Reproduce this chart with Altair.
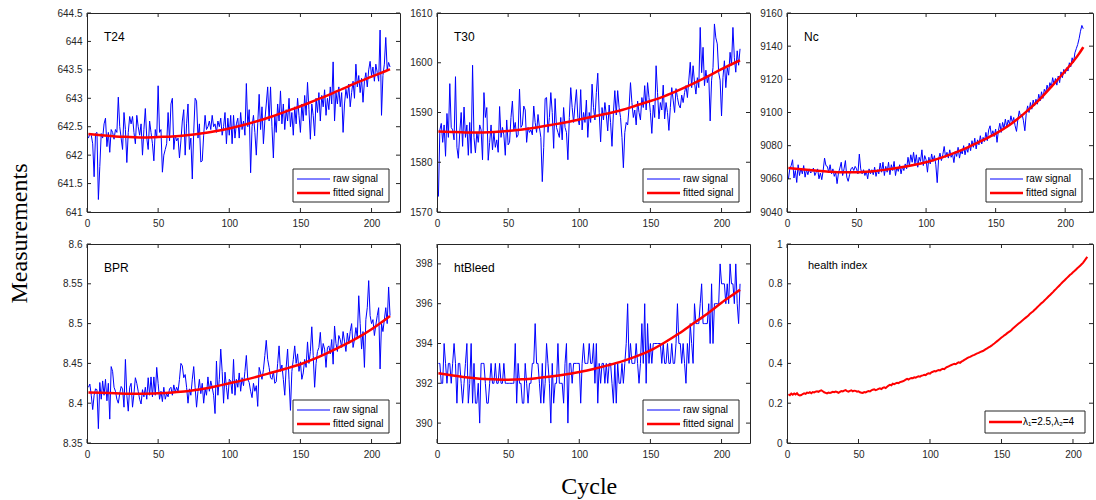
import altair as alt
import pandas as pd

# ---------------- data ----------------
FIT_CYCLES = [1, 10, 20, 30, 40, 50, 60, 70, 80, 90, 100, 110, 120, 130, 140,
              150, 160, 170, 180, 190, 200, 210, 213]
X_TICKS = [0, 50, 100, 150, 200]

T24_RAW = [
    642.30, 642.38, 642.35, 642.20, 641.62, 642.38, 642.40, 641.22, 641.80, 642.38,
    642.30, 642.55, 642.65, 642.15, 642.40, 642.05, 642.45, 642.40, 642.28, 642.45,
    642.40, 643.02, 642.50, 642.30, 642.10, 642.75, 642.45, 641.87, 642.40, 642.68,
    642.55, 642.68, 642.40, 642.20, 642.70, 642.50, 642.35, 642.55, 642.00, 642.45,
    642.82, 642.30, 642.10, 642.60, 642.40, 642.20, 641.90, 642.45, 642.30, 643.22,
    642.40, 642.45, 641.70, 642.00, 642.10, 642.20, 642.75, 642.25, 642.90, 643.00,
    642.10, 642.35, 642.25, 642.30, 641.95, 642.25, 642.60, 642.80, 642.00, 642.55,
    642.90, 642.10, 642.30, 641.58, 642.40, 643.00, 642.95, 642.30, 642.55, 641.88,
    641.90, 642.35, 642.70, 642.45, 642.50, 642.60, 642.45, 642.70, 642.50, 642.55,
    642.40, 642.60, 642.50, 642.65, 642.35, 642.50, 642.75, 642.20, 642.65, 642.35,
    642.70, 642.20, 642.70, 642.30, 642.55, 642.65, 642.30, 642.75, 642.45, 642.60,
    642.35, 643.26, 642.50, 642.80, 641.69, 642.50, 642.70, 642.40, 642.00, 642.55,
    643.07, 642.45, 642.85, 642.20, 642.60, 642.90, 643.20, 642.60, 643.20, 642.50,
    641.95, 642.70, 642.40, 642.90, 642.60, 643.13, 642.55, 642.90, 642.45, 642.80,
    642.60, 643.00, 642.50, 642.75, 642.35, 642.85, 642.55, 643.00, 642.70, 642.40,
    642.90, 642.60, 643.05, 642.70, 643.28, 642.80, 642.28, 642.90, 642.70, 642.34,
    643.00, 642.75, 643.10, 642.60, 643.05, 642.85, 643.15, 642.70, 643.00, 642.80,
    643.20, 642.90, 643.64, 642.60, 643.10, 642.90, 643.20, 642.85, 643.10, 642.40,
    642.90, 643.16, 643.00, 643.25, 642.85, 643.10, 643.30, 643.00, 643.60, 643.20,
    643.40, 643.10, 643.35, 642.93, 643.30, 643.45, 643.20, 643.50, 643.65, 643.40,
    643.55, 643.30, 643.60, 643.45, 643.30, 644.20, 642.70, 643.40, 643.60, 644.07,
    643.50, 643.63, 643.55]
T24_FIT = [642.37, 642.35, 642.33, 642.32, 642.31, 642.32, 642.33, 642.35, 642.38,
           642.42, 642.47, 642.53, 642.60, 642.68, 642.77, 642.86, 642.96, 643.06,
           643.17, 643.28, 643.38, 643.48, 643.51]

T30_RAW = [
    1573.1, 1586.5, 1587.8, 1584.0, 1587.5, 1581.2, 1589.8, 1585.0, 1595.8, 1587.0,
    1586.5, 1584.5, 1597.2, 1583.0, 1580.8, 1586.0, 1590.0, 1583.2, 1591.1, 1585.0,
    1587.5, 1581.4, 1588.0, 1581.8, 1599.5, 1585.0, 1581.9, 1586.0, 1584.0, 1587.5,
    1586.5, 1580.5, 1594.0, 1589.0, 1591.0, 1580.4, 1584.0, 1587.5, 1582.5, 1586.0,
    1583.0, 1584.5, 1582.0, 1591.2, 1585.0, 1587.0, 1585.5, 1581.4, 1588.5, 1583.5,
    1584.0, 1589.0, 1592.3, 1586.5, 1588.0, 1585.0, 1585.5, 1594.7, 1587.0, 1587.5,
    1591.3, 1590.5, 1584.0, 1587.0, 1586.0, 1586.5, 1585.5, 1591.3, 1588.0, 1586.0,
    1589.6, 1587.0, 1585.0, 1576.1, 1583.0, 1592.8, 1593.0, 1586.0, 1589.0, 1594.0,
    1590.0, 1582.8, 1592.8, 1587.0, 1586.0, 1585.0, 1589.0, 1584.5, 1591.0, 1587.0,
    1586.0, 1580.5, 1589.0, 1595.0, 1591.0, 1588.0, 1591.5, 1594.6, 1589.0, 1587.5,
    1594.6, 1586.5, 1590.0, 1588.0, 1592.5, 1585.0, 1590.0, 1588.0, 1595.7, 1591.0,
    1588.5, 1594.0, 1597.9, 1590.0, 1584.1, 1591.0, 1588.5, 1592.0, 1589.5, 1586.3,
    1591.5, 1588.0, 1583.2, 1590.0, 1594.4, 1589.5, 1594.4, 1591.0, 1589.0, 1585.0,
    1578.9, 1586.0, 1588.0, 1587.5, 1591.0, 1596.0, 1592.0, 1589.0, 1590.5, 1587.5,
    1592.3, 1590.0, 1588.5, 1593.0, 1591.0, 1595.4, 1590.5, 1596.0, 1593.0, 1590.0,
    1585.8, 1591.5, 1589.0, 1599.4, 1594.0, 1588.7, 1592.0, 1590.5, 1595.5, 1588.7,
    1592.0, 1590.0, 1586.4, 1591.0, 1595.0, 1592.5, 1590.0, 1594.8, 1593.0, 1591.5,
    1590.9, 1593.5, 1592.0, 1594.0, 1595.4, 1593.0, 1596.5, 1600.1, 1595.0, 1599.4,
    1596.0, 1593.7, 1597.0, 1595.0, 1607.1, 1598.0, 1603.1, 1595.4, 1598.5, 1596.0,
    1597.5, 1588.3, 1596.5, 1599.0, 1607.8, 1605.0, 1603.8, 1598.0, 1596.5, 1589.3,
    1597.0, 1600.4, 1595.0, 1599.0, 1597.5, 1602.1, 1599.5, 1607.1, 1601.0, 1598.1,
    1602.4, 1599.5, 1602.8]
T30_FIT = [1586.2, 1586.1, 1586.0, 1586.0, 1586.1, 1586.3, 1586.6, 1587.0, 1587.5,
           1588.0, 1588.6, 1589.2, 1589.8, 1590.5, 1591.4, 1592.3, 1593.3, 1594.5,
           1595.8, 1597.2, 1598.7, 1600.1, 1600.5]

NC_RAW = [
    9059.8, 9066.0, 9068.0, 9071.5, 9060.5, 9065.0, 9057.8, 9068.5, 9062.0, 9066.5,
    9063.0, 9068.0, 9061.0, 9065.5, 9062.5, 9066.0, 9063.5, 9064.5, 9066.5, 9062.0,
    9064.0, 9066.0, 9060.0, 9063.5, 9059.5, 9065.0, 9072.5, 9068.0, 9067.5, 9064.0,
    9068.5, 9063.0, 9066.0, 9061.5, 9064.0, 9057.1, 9063.5, 9066.5, 9070.0, 9062.0,
    9066.0, 9071.0, 9061.0, 9058.5, 9062.5, 9066.0, 9067.0, 9065.0, 9067.5, 9066.0,
    9063.0, 9074.9, 9066.0, 9063.0, 9065.5, 9062.0, 9064.5, 9060.0, 9066.0, 9063.0,
    9065.5, 9062.5, 9067.0, 9061.5, 9065.5, 9063.0, 9069.5, 9064.0, 9070.0, 9062.0,
    9067.5, 9064.0, 9070.0, 9062.5, 9068.5, 9065.0, 9070.5, 9062.0, 9067.0, 9064.5,
    9068.5, 9063.0, 9067.5, 9065.0, 9069.0, 9066.0, 9073.0, 9068.0, 9074.5, 9070.0,
    9076.0, 9069.0, 9074.5, 9067.0, 9073.0, 9070.5, 9077.5, 9068.0, 9074.0, 9071.5,
    9064.0, 9073.0, 9069.0, 9075.0, 9070.5, 9074.0, 9068.5, 9057.7, 9072.0, 9075.5,
    9071.0, 9074.5, 9079.5, 9073.0, 9076.0, 9072.5, 9077.5, 9073.0, 9075.0, 9069.8,
    9076.5, 9073.5, 9079.0, 9072.5, 9077.0, 9075.0, 9080.0, 9074.5, 9079.0, 9076.0,
    9081.5, 9077.0, 9083.0, 9079.0, 9084.5, 9078.0, 9083.5, 9080.5, 9086.0, 9081.0,
    9085.0, 9082.5, 9088.0, 9083.0, 9089.5, 9092.0, 9086.0, 9089.0, 9085.5, 9090.0,
    9082.0, 9089.0, 9093.5, 9088.0, 9094.0, 9090.5, 9096.0, 9091.0, 9095.5, 9093.0,
    9098.0, 9094.0, 9097.0, 9092.0, 9088.6, 9096.0, 9101.0, 9097.0, 9099.0, 9095.0,
    9089.0, 9099.5, 9104.0, 9100.0, 9106.0, 9102.0, 9107.5, 9104.0, 9108.0, 9105.0,
    9111.0, 9107.0, 9112.5, 9108.5, 9114.0, 9112.0, 9116.5, 9113.0, 9118.0, 9115.5,
    9121.0, 9117.0, 9120.5, 9116.5, 9122.0, 9118.0, 9124.5, 9121.0, 9126.0, 9123.5,
    9127.0, 9125.0, 9130.0, 9127.5, 9133.0, 9130.0, 9136.0, 9138.5, 9141.0, 9144.5,
    9149.0, 9152.5, 9150.5]
NC_FIT = [9066.5, 9065.8, 9065.0, 9064.3, 9063.9, 9063.9, 9064.4, 9065.4, 9066.7,
          9068.2, 9070.0, 9072.5, 9075.5, 9079.0, 9083.0, 9087.3, 9092.5, 9099.0,
          9106.5, 9115.5, 9125.0, 9135.5, 9139.4]

BPR_RAW = [
    8.420, 8.424, 8.410, 8.392, 8.410, 8.418, 8.417, 8.368, 8.426, 8.405,
    8.428, 8.410, 8.430, 8.403, 8.425, 8.380, 8.446, 8.440, 8.420, 8.415,
    8.405, 8.400, 8.412, 8.421, 8.418, 8.395, 8.455, 8.410, 8.390, 8.420,
    8.425, 8.395, 8.412, 8.432, 8.425, 8.415, 8.405, 8.399, 8.417, 8.408,
    8.420, 8.405, 8.432, 8.410, 8.433, 8.408, 8.433, 8.410, 8.445, 8.425,
    8.405, 8.415, 8.402, 8.420, 8.405, 8.412, 8.408, 8.418, 8.420, 8.410,
    8.423, 8.414, 8.420, 8.415, 8.430, 8.450, 8.447, 8.432, 8.436, 8.420,
    8.400, 8.418, 8.410, 8.430, 8.446, 8.420, 8.395, 8.415, 8.430, 8.412,
    8.425, 8.400, 8.418, 8.410, 8.433, 8.415, 8.428, 8.420, 8.410, 8.387,
    8.453, 8.410, 8.430, 8.468, 8.440, 8.400, 8.439, 8.420, 8.405, 8.430,
    8.428, 8.412, 8.455, 8.410, 8.430, 8.420, 8.438, 8.415, 8.432, 8.422,
    8.440, 8.460, 8.430, 8.426, 8.415, 8.407, 8.425, 8.415, 8.422, 8.396,
    8.445, 8.438, 8.430, 8.442, 8.460, 8.479, 8.455, 8.445, 8.432, 8.430,
    8.440, 8.425, 8.427, 8.450, 8.472, 8.440, 8.448, 8.430, 8.410, 8.445,
    8.468, 8.430, 8.391, 8.440, 8.455, 8.472, 8.450, 8.462, 8.440, 8.452,
    8.430, 8.438, 8.455, 8.445, 8.477, 8.450, 8.465, 8.496, 8.460, 8.420,
    8.450, 8.465, 8.470, 8.489, 8.460, 8.475, 8.468, 8.445, 8.470, 8.472,
    8.462, 8.480, 8.449, 8.497, 8.475, 8.465, 8.485, 8.480, 8.470, 8.490,
    8.478, 8.465, 8.488, 8.475, 8.490, 8.500, 8.470, 8.480, 8.495, 8.482,
    8.535, 8.500, 8.468, 8.490, 8.445, 8.505, 8.520, 8.554, 8.510, 8.500,
    8.505, 8.485, 8.498, 8.510, 8.520, 8.443, 8.500, 8.490, 8.505, 8.520,
    8.500, 8.546, 8.510]
BPR_FIT = [8.4135, 8.413, 8.4125, 8.412, 8.412, 8.4125, 8.4135, 8.415, 8.4175,
           8.421, 8.425, 8.429, 8.4335, 8.4385, 8.4435, 8.449, 8.456, 8.464,
           8.4725, 8.482, 8.493, 8.5055, 8.5095]

HTB_RAW = [
    393, 393, 392, 392, 394, 393, 392, 393, 393, 392,
    393, 394, 393, 391, 393, 393, 392, 391, 392, 393,
    394, 391, 392, 394, 391, 393, 391, 391, 392, 390,
    393, 393, 393, 392, 391, 391, 392, 393, 392, 392,
    393, 392, 392, 393, 392, 392, 393, 392, 392, 392,
    392, 392, 392, 392, 394, 391, 393, 392, 392, 391,
    391, 393, 392, 391, 392, 392, 393, 393, 395, 393,
    393, 392, 391, 393, 391, 392, 394, 393, 392, 390,
    393, 391, 392, 392, 394, 392, 392, 392, 391, 393,
    394, 390, 393, 393, 392, 393, 393, 393, 393, 393,
    391, 393, 394, 393, 393, 393, 394, 393, 393, 394,
    392, 394, 391, 393, 392, 393, 393, 392, 393, 392,
    393, 393, 392, 391, 393, 391, 393, 392, 392, 393,
    392, 393, 394, 396, 393, 394, 393, 393, 393, 394,
    393, 392, 393, 395, 393, 396, 392, 395, 393, 394,
    393, 394, 394, 394, 394, 394, 394, 393, 394, 393,
    393, 394, 393, 393, 394, 393, 393, 394, 396, 394,
    394, 393, 394, 393, 392, 394, 393, 395, 394, 393,
    396, 395, 395, 395, 396, 397, 395, 395, 395, 395,
    396, 394, 397, 394, 396, 396, 396, 396, 398, 397,
    397, 397, 396, 397, 396, 398, 397, 397, 396, 398,
    396, 395, 397]
HTB_FIT = [392.5, 392.4, 392.3, 392.23, 392.2, 392.18, 392.2, 392.26, 392.34,
           392.44, 392.57, 392.72, 392.9, 393.1, 393.35, 393.65, 394.05, 394.5,
           395.0, 395.5, 396.05, 396.55, 396.7]

HEALTH = [
    0.245, 0.240, 0.248, 0.243, 0.249, 0.244, 0.250, 0.242, 0.239, 0.241,
    0.246, 0.250, 0.247, 0.253, 0.251, 0.255, 0.250, 0.256, 0.254, 0.258,
    0.260, 0.257, 0.262, 0.265, 0.260, 0.255, 0.252, 0.249, 0.253, 0.251,
    0.254, 0.257, 0.255, 0.258, 0.256, 0.252, 0.257, 0.261, 0.259, 0.263,
    0.266, 0.261, 0.258, 0.262, 0.265, 0.260, 0.263, 0.262, 0.258, 0.260,
    0.255, 0.253, 0.252, 0.256, 0.254, 0.258, 0.261, 0.259, 0.264, 0.268,
    0.270, 0.266, 0.268, 0.272, 0.275, 0.271, 0.277, 0.280, 0.276, 0.283,
    0.288, 0.292, 0.290, 0.298, 0.296, 0.300, 0.303, 0.301, 0.306, 0.308,
    0.310, 0.314, 0.318, 0.322, 0.319, 0.324, 0.327, 0.326, 0.330, 0.328,
    0.332, 0.335, 0.333, 0.338, 0.340, 0.343, 0.341, 0.347, 0.350, 0.348,
    0.355, 0.358, 0.362, 0.360, 0.364, 0.367, 0.365, 0.370, 0.373, 0.371,
    0.378, 0.382, 0.385, 0.389, 0.392, 0.395, 0.398, 0.396, 0.401, 0.405,
    0.403, 0.409, 0.413, 0.418, 0.422, 0.426, 0.430, 0.433, 0.437, 0.440,
    0.443, 0.447, 0.450, 0.453, 0.457, 0.460, 0.462, 0.467, 0.472, 0.476,
    0.480, 0.484, 0.489, 0.495, 0.500, 0.506, 0.512, 0.518, 0.524, 0.530,
    0.535, 0.541, 0.546, 0.552, 0.557, 0.562, 0.568, 0.576, 0.582, 0.588,
    0.594, 0.600, 0.606, 0.612, 0.618, 0.624, 0.630, 0.636, 0.642, 0.650,
    0.656, 0.661, 0.668, 0.675, 0.682, 0.689, 0.696, 0.703, 0.708, 0.716,
    0.723, 0.730, 0.737, 0.744, 0.751, 0.758, 0.766, 0.773, 0.781, 0.788,
    0.795, 0.803, 0.810, 0.817, 0.824, 0.831, 0.838, 0.845, 0.851, 0.858,
    0.864, 0.871, 0.878, 0.884, 0.891, 0.898, 0.905, 0.915, 0.925, 0.935]

# ---------------- style ----------------
BLUE = "#0000ff"
RED = "#ff0000"
AX = "#262626"
SANS = "Liberation Sans"
SERIF = "Liberation Serif"
W, H = 313, 199
W3 = 306
TICK = 4
LABEL_EXPR = "'' + datum.value"


def base_enc(ydom, yticks, xdom):
    xsc = alt.Scale(domain=list(xdom), nice=False, zero=False)
    ysc = alt.Scale(domain=list(ydom), nice=False, zero=False)
    xax = alt.Axis(values=X_TICKS, labelExpr=LABEL_EXPR, ticks=False, domain=False,
                   grid=False, labelFlush=False, labelPadding=6, title=None,
                   labelOverlap=False)
    yax = alt.Axis(values=yticks, labelExpr=LABEL_EXPR, ticks=False, domain=False,
                   grid=False, labelFlush=False, labelPadding=5, title=None,
                   labelOverlap=False)
    X = alt.X("cycle:Q", scale=xsc, axis=xax)
    Y = alt.Y("value:Q", scale=ysc, axis=yax)
    return X, Y


def tick_layers(X, Y, yticks, w, h):
    xt = pd.DataFrame({"cycle": X_TICKS})
    yt = pd.DataFrame({"value": yticks})
    rs = dict(color=AX, strokeWidth=1)
    return [
        alt.Chart(xt).mark_rule(**rs).encode(x=X, y=alt.value(h), y2=alt.value(h - TICK)),
        alt.Chart(xt).mark_rule(**rs).encode(x=X, y=alt.value(0), y2=alt.value(TICK)),
        alt.Chart(yt).mark_rule(**rs).encode(y=Y, x=alt.value(0), x2=alt.value(TICK)),
        alt.Chart(yt).mark_rule(**rs).encode(y=Y, x=alt.value(w), x2=alt.value(w - TICK)),
    ]


def label_layer(text, size=12, dx=17, dy=27):
    return alt.Chart(pd.DataFrame({"t": [text]})).mark_text(
        align="left", baseline="alphabetic", font=SANS, fontSize=size, color="black"
    ).encode(x=alt.value(dx), y=alt.value(dy), text="t:N")


def one_row():
    return pd.DataFrame({"k": [0]})


def signal_legend(w, h):
    bw, bh = 96, 33
    x1, x2 = w - 11 - bw, w - 11
    y1, y2 = h - 10 - bh, h - 10
    d = one_row()
    box = alt.Chart(d).mark_rect(fill="white", stroke=AX, strokeWidth=1).encode(
        x=alt.value(x1), x2=alt.value(x2), y=alt.value(y1), y2=alt.value(y2))
    r1 = alt.Chart(d).mark_rule(color=BLUE, strokeWidth=1).encode(
        x=alt.value(x1 + 4), x2=alt.value(x1 + 37), y=alt.value(y1 + 10))
    r2 = alt.Chart(d).mark_rule(color=RED, strokeWidth=2.5).encode(
        x=alt.value(x1 + 4), x2=alt.value(x1 + 37), y=alt.value(y1 + 24))
    tk = dict(align="left", baseline="middle", font=SANS, fontSize=10, color="black")
    t1 = alt.Chart(d).mark_text(**tk).encode(x=alt.value(x1 + 40), y=alt.value(y1 + 10),
                                             text=alt.value("raw signal"))
    t2 = alt.Chart(d).mark_text(**tk).encode(x=alt.value(x1 + 40), y=alt.value(y1 + 24),
                                             text=alt.value("fitted signal"))
    return [box, r1, r2, t1, t2]


def signal_panel(name, raw, fit, ydom, yticks, w=W, h=H, xdom=(0, 220)):
    X, Y = base_enc(ydom, yticks, xdom)
    raw_df = pd.DataFrame({"cycle": list(range(1, len(raw) + 1)), "value": raw})
    fit_df = pd.DataFrame({"cycle": FIT_CYCLES, "value": fit})
    raw_line = alt.Chart(raw_df).mark_line(color=BLUE, strokeWidth=1).encode(x=X, y=Y)
    fit_line = alt.Chart(fit_df).mark_line(color=RED, strokeWidth=2.5,
                                           interpolate="monotone").encode(x=X, y=Y)
    layers = [raw_line, fit_line] + tick_layers(X, Y, yticks, w, h) + \
        [label_layer(name, dy=28)] + signal_legend(w, h)
    return alt.layer(*layers).properties(width=w, height=h)


def health_panel(w=W3, h=H):
    yticks = [0, 0.2, 0.4, 0.6, 0.8, 1]
    X, Y = base_enc((0, 1), yticks, (0, 214))
    df = pd.DataFrame({"cycle": list(range(1, len(HEALTH) + 1)), "value": HEALTH})
    line = alt.Chart(df).mark_line(color=RED, strokeWidth=2).encode(x=X, y=Y)
    bw, bh = 100, 22
    x1, x2 = w - 8 - bw, w - 8
    y1, y2 = h - 10 - bh, h - 10
    d = one_row()
    box = alt.Chart(d).mark_rect(fill="white", stroke=AX, strokeWidth=1).encode(
        x=alt.value(x1), x2=alt.value(x2), y=alt.value(y1), y2=alt.value(y2))
    r = alt.Chart(d).mark_rule(color=RED, strokeWidth=2.5).encode(
        x=alt.value(x1 + 4), x2=alt.value(x1 + 37), y=alt.value(y1 + 11))
    t = alt.Chart(d).mark_text(align="left", baseline="middle", font=SANS, fontSize=10,
                               color="black").encode(
        x=alt.value(x1 + 38), y=alt.value(y1 + 11), text=alt.value("λ₁=2.5,λ₂=4"))
    layers = [line] + tick_layers(X, Y, yticks, w, h) + \
        [label_layer("health index", size=11, dx=21, dy=25), box, r, t]
    return alt.layer(*layers).properties(width=w, height=h)


p1 = signal_panel("T24", T24_RAW, T24_FIT, (641, 644.5),
                  [641, 641.5, 642, 642.5, 643, 643.5, 644, 644.5])
p2 = signal_panel("T30", T30_RAW, T30_FIT, (1570, 1610), [1570, 1580, 1590, 1600, 1610])
p3 = signal_panel("Nc", NC_RAW, NC_FIT, (9040, 9160),
                  [9040, 9060, 9080, 9100, 9120, 9140, 9160], w=W3)
p4 = signal_panel("BPR", BPR_RAW, BPR_FIT, (8.35, 8.6),
                  [8.35, 8.4, 8.45, 8.5, 8.55, 8.6])
p5 = signal_panel("htBleed", HTB_RAW, HTB_FIT, (389, 399), [390, 392, 394, 396, 398])
p6 = health_panel()

grid = alt.concat(p1, p2, p3, p4, p5, p6, columns=3,
                  spacing={"row": 32, "column": 37}, bounds="flush").properties(
    title=alt.TitleParams("Measurements", orient="left", anchor="middle", offset=24,
                          font=SERIF, fontSize=24, fontWeight="normal", color="black"))

chart = alt.hconcat(grid, spacing=0).properties(
    title=alt.TitleParams("Cycle", orient="bottom", anchor="middle", offset=15, dx=38,
                          font=SERIF, fontSize=24, fontWeight="normal", color="black"),
    padding={"left": 8, "top": 7, "right": 0, "bottom": 0},
).configure_view(stroke=AX, strokeWidth=1).configure_axis(
    labelFont=SANS, labelFontSize=10, labelColor=AX
)

chart.save("out.html", embed_options={"renderer": "svg", "actions": False})
